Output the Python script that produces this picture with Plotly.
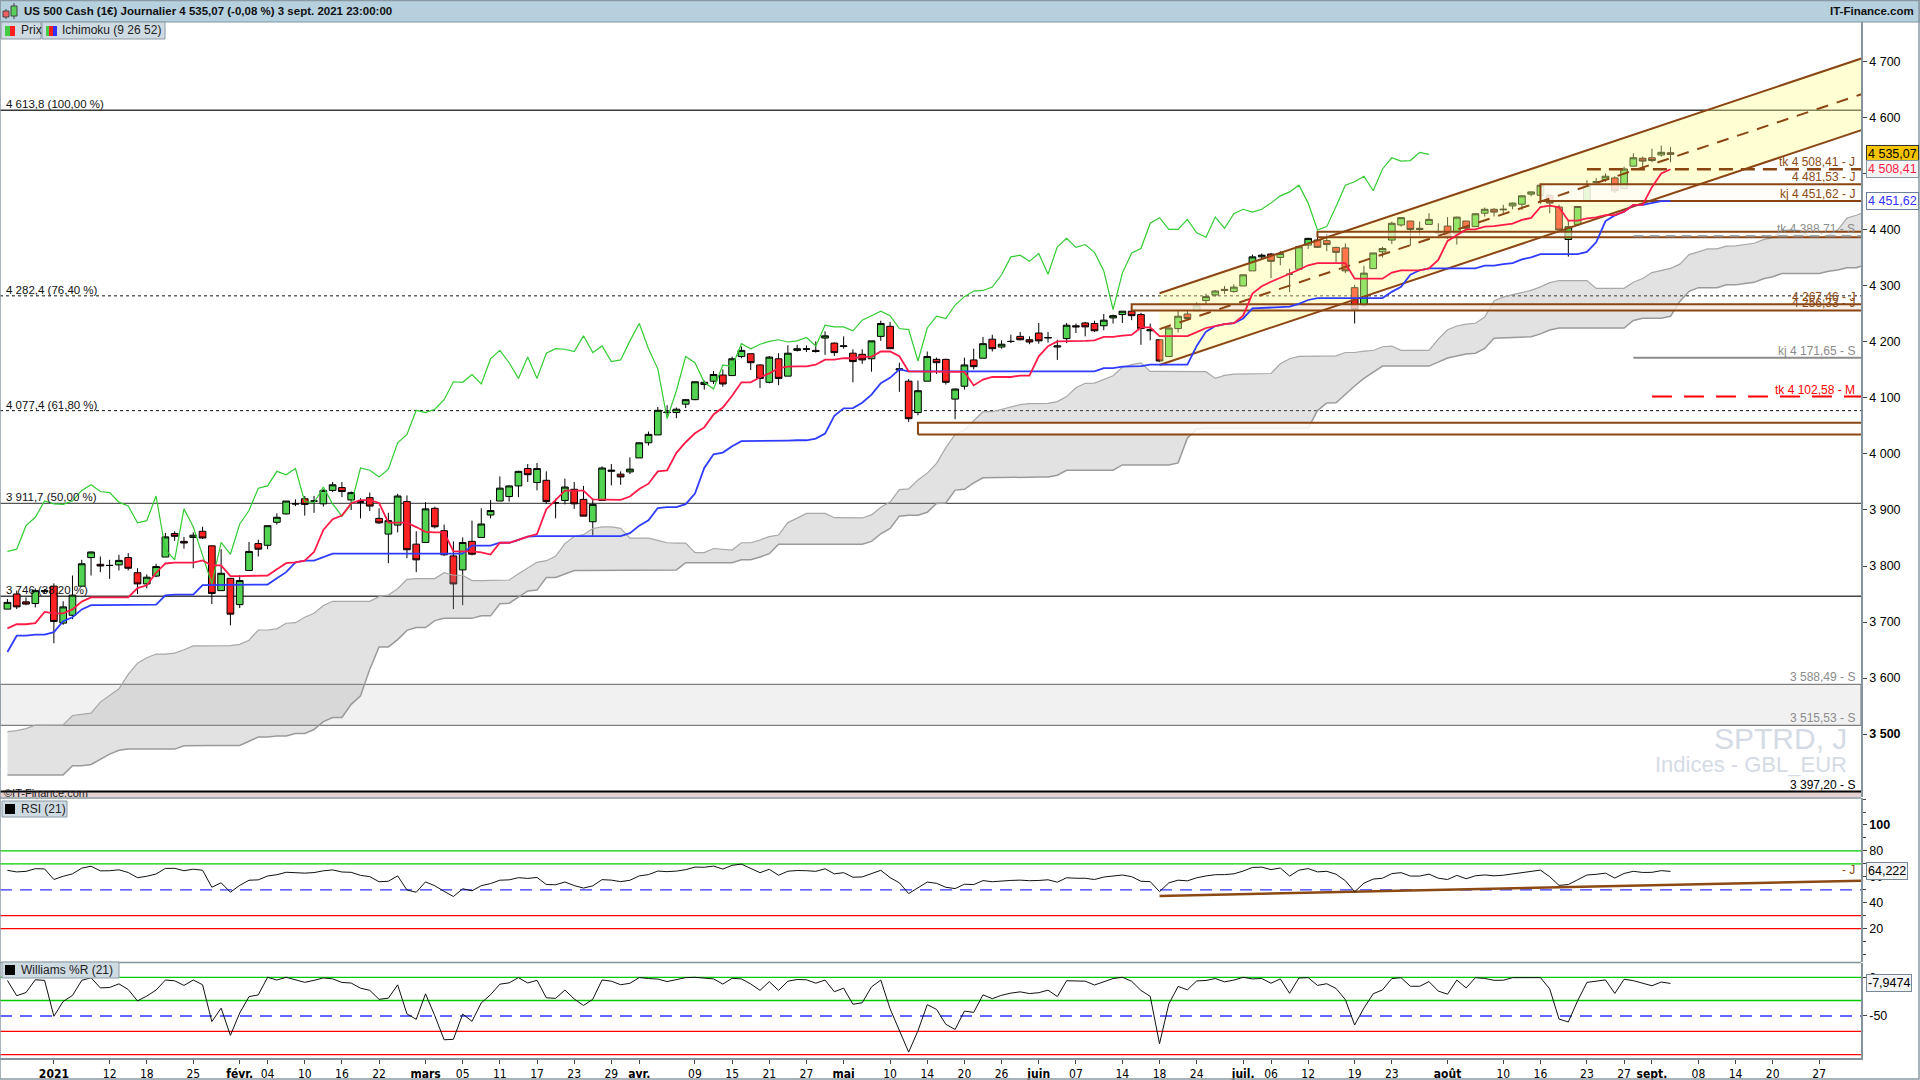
import pandas as pd
import plotly.graph_objects as go
from plotly.subplots import make_subplots

# warm-up bars (1 Sep - 25 Dec 2020), only used for the indicators
pre_high = [3529, 3588, 3564, 3479, 3430, 3379, 3424, 3426, 3369, 3402, 3419, 3428, 3376, 3363, 3286, 3320, 3323, 3279, 3306, 3361, 3357, 3393,
            3397, 3369, 3409, 3432, 3426, 3450, 3482, 3549, 3534, 3528, 3486, 3515, 3502, 3477, 3465, 3460, 3466, 3443, 3410, 3342, 3342, 3304,
            3331, 3389, 3486, 3529, 3521, 3645, 3557, 3579, 3569, 3593, 3628, 3624, 3619, 3585, 3582, 3589, 3642, 3635, 3640, 3644, 3637,
            3678, 3670, 3682, 3700, 3698, 3709, 3713, 3674, 3665, 3697, 3695, 3711, 3725, 3726, 3702, 3698, 3706, 3703, 3705]
pre_low = [3494, 3535, 3427, 3350, 3370, 3330, 3367, 3329, 3311, 3363, 3389, 3384, 3328, 3293, 3229, 3270, 3232, 3209, 3228, 3334, 3327, 3340,
           3361, 3324, 3367, 3354, 3384, 3425, 3456, 3489, 3500, 3480, 3441, 3482, 3419, 3435, 3433, 3416, 3440, 3363, 3388, 3268, 3259, 3233,
           3280, 3310, 3405, 3485, 3485, 3547, 3511, 3553, 3518, 3552, 3601, 3594, 3567, 3543, 3556, 3552, 3595, 3617, 3625, 3630, 3595,
           3645, 3645, 3661, 3670, 3684, 3679, 3660, 3645, 3634, 3645, 3659, 3688, 3710, 3685, 3636, 3676, 3687, 3689, 3698]
pre_close = [3526, 3580, 3455, 3427, 3390, 3332, 3399, 3339, 3341, 3383, 3401, 3385, 3357, 3319, 3281, 3315, 3237, 3246, 3298, 3351, 3335, 3363,
             3380, 3348, 3408, 3361, 3419, 3447, 3477, 3534, 3512, 3489, 3483, 3484, 3427, 3443, 3436, 3453, 3465, 3401, 3391, 3271, 3310, 3270,
             3310, 3369, 3443, 3510, 3509, 3550, 3545, 3572, 3537, 3585, 3626, 3610, 3568, 3582, 3558, 3577, 3636, 3629, 3635, 3638, 3622,
             3662, 3669, 3666, 3699, 3692, 3702, 3673, 3668, 3663, 3647, 3695, 3702, 3722, 3709, 3694, 3687, 3690, 3703, 3703]

# daily bars shown on the chart, 28 Dec 2020 - 3 Sep 2021
bar_open = [3723, 3750, 3736, 3733, 3756, 3764, 3698, 3712, 3764, 3815, 3803, 3801, 3802, 3815, 3788, 3768, 3782, 3816, 3858, 3844,
            3851, 3862, 3836, 3756, 3778, 3731, 3792, 3840, 3837, 3878, 3893, 3911, 3920, 3916, 3911, 3935, 3940, 3918, 3915, 3922,
            3885, 3857, 3873, 3915, 3839, 3842, 3903, 3863, 3818, 3793, 3844, 3851, 3891, 3916, 3924, 3943, 3974, 3949, 3953, 3913,
            3917, 3937, 3919, 3879, 3917, 3969, 3964, 3968, 3993, 4020, 4034, 4075, 4074, 4089, 4097, 4124, 4130, 4141, 4140, 4174,
            4179, 4159, 4128, 4170, 4139, 4185, 4188, 4185, 4207, 4198, 4192, 4180, 4178, 4170, 4210, 4228, 4150, 4130, 4074, 4130,
            4169, 4169, 4098, 4121, 4168, 4171, 4205, 4191, 4201, 4210, 4204, 4216, 4207, 4191, 4206, 4229, 4234, 4233, 4229, 4243,
            4249, 4255, 4249, 4220, 4204, 4174, 4224, 4250, 4256, 4274, 4284, 4294, 4290, 4300, 4327, 4352, 4357, 4351, 4321, 4330,
            4373, 4382, 4381, 4369, 4368, 4297, 4266, 4331, 4361, 4382, 4409, 4416, 4403, 4410, 4396, 4407, 4393, 4416, 4406, 4430,
            4437, 4436, 4443, 4446, 4464, 4462, 4462, 4441, 4383, 4410, 4451, 4485, 4490, 4493, 4474, 4514, 4528, 4529, 4534, 4538]
bar_high = [3741, 3756, 3744, 3760, 3758, 3769, 3737, 3783, 3811, 3826, 3817, 3811, 3820, 3823, 3796, 3785, 3804, 3859, 3862, 3852,
            3860, 3870, 3837, 3830, 3778, 3784, 3843, 3847, 3872, 3894, 3916, 3919, 3925, 3925, 3937, 3950, 3950, 3933, 3921, 3931,
            3903, 3895, 3929, 3926, 3862, 3914, 3906, 3874, 3844, 3851, 3881, 3903, 3918, 3960, 3944, 3970, 3982, 3984, 3969, 3920,
            3956, 3950, 3943, 3920, 3978, 3982, 3969, 3994, 4021, 4040, 4084, 4087, 4083, 4098, 4129, 4131, 4148, 4151, 4174, 4192,
            4180, 4160, 4175, 4180, 4194, 4195, 4194, 4201, 4219, 4199, 4210, 4187, 4187, 4202, 4238, 4236, 4163, 4134, 4131, 4183,
            4172, 4170, 4117, 4172, 4188, 4209, 4213, 4203, 4213, 4218, 4210, 4234, 4218, 4204, 4234, 4233, 4236, 4238, 4250, 4249,
            4255, 4257, 4252, 4233, 4204, 4226, 4256, 4256, 4271, 4286, 4293, 4300, 4303, 4320, 4356, 4358, 4359, 4362, 4331, 4372,
            4386, 4393, 4393, 4370, 4376, 4302, 4336, 4359, 4370, 4415, 4423, 4416, 4415, 4430, 4412, 4423, 4424, 4416, 4430, 4440,
            4439, 4445, 4449, 4462, 4469, 4481, 4463, 4445, 4418, 4442, 4489, 4493, 4501, 4496, 4513, 4537, 4531, 4545, 4550.8, 4548]
bar_low = [3723, 3723, 3730, 3726, 3752, 3662, 3695, 3705, 3764, 3783, 3789, 3777, 3792, 3792, 3750, 3760, 3780, 3816, 3845, 3831,
           3796, 3848, 3732, 3756, 3694, 3725, 3792, 3817, 3830, 3874, 3892, 3907, 3890, 3895, 3906, 3932, 3923, 3900, 3885, 3898,
           3875, 3805, 3860, 3814, 3789, 3842, 3867, 3818, 3723, 3730, 3819, 3851, 3885, 3916, 3915, 3923, 3950, 3935, 3911, 3885,
           3910, 3902, 3889, 3854, 3917, 3944, 3945, 3964, 3993, 4015, 4034, 4068, 4064, 4082, 4096, 4115, 4125, 4120, 4140, 4171,
           4150, 4118, 4126, 4123, 4139, 4183, 4182, 4181, 4177, 4175, 4188, 4128, 4161, 4147, 4202, 4188, 4111, 4057, 4069, 4130,
           4143, 4124, 4062, 4115, 4151, 4171, 4183, 4188, 4198, 4203, 4196, 4197, 4199, 4168, 4198, 4216, 4210, 4218, 4221, 4233,
           4234, 4239, 4195, 4203, 4164, 4174, 4217, 4241, 4256, 4267, 4281, 4286, 4288, 4300, 4327, 4347, 4314, 4337, 4289, 4330,
           4366, 4368, 4362, 4341, 4323, 4233, 4263, 4331, 4351, 4375, 4406, 4372, 4390, 4409, 4389, 4384, 4374, 4401, 4406, 4424,
           4424, 4430, 4437, 4436, 4460, 4447, 4430, 4400, 4352.4, 4408, 4451, 4482, 4486, 4466, 4474, 4513, 4507, 4521, 4531, 4521]
bar_close = [3735, 3727, 3732, 3756, 3755, 3701, 3727, 3748, 3804, 3825, 3800, 3801, 3810, 3796, 3768, 3780, 3799, 3852, 3853, 3841,
             3855, 3850, 3751, 3787, 3714, 3774, 3826, 3830, 3872, 3887, 3916, 3911, 3910, 3916, 3935, 3945, 3933, 3931, 3914, 3907,
             3877, 3881, 3925, 3829, 3811, 3902, 3870, 3820, 3768, 3842, 3821, 3875, 3899, 3939, 3943, 3969, 3963, 3974, 3915, 3913,
             3941, 3911, 3889, 3910, 3975, 3971, 3959, 3973, 4020, 4035, 4078, 4074, 4080, 4097, 4129, 4128, 4142, 4125, 4170, 4185,
             4163, 4135, 4173, 4135, 4180, 4188, 4187, 4183, 4211, 4181, 4193, 4165, 4168, 4202, 4233, 4188, 4152, 4063, 4113, 4174,
             4163, 4128, 4116, 4159, 4156, 4197, 4188, 4196, 4201, 4204, 4200, 4202, 4208, 4193, 4230, 4227, 4227, 4220, 4239, 4247,
             4255, 4247, 4224, 4222, 4166, 4225, 4246, 4242, 4266, 4281, 4291, 4292, 4298, 4320, 4352, 4355, 4344, 4358, 4321, 4370,
             4385, 4369, 4374, 4360, 4327, 4258, 4323, 4359, 4367, 4412, 4422, 4401, 4401, 4419, 4395, 4387, 4423, 4403, 4429, 4437,
             4432, 4437, 4448, 4461, 4468, 4480, 4448, 4400, 4406, 4442, 4480, 4486, 4496, 4470, 4509, 4529, 4523, 4524, 4538.7, 4535.07]

pre_dates = [d.strftime('%Y-%m-%d') for d in pd.bdate_range('2020-09-01', '2020-12-25')]
bar_dates = [d.strftime('%Y-%m-%d') for d in pd.bdate_range('2020-12-28', '2021-09-03')]
future_dates = [d.strftime('%Y-%m-%d') for d in pd.bdate_range('2021-09-06', '2021-10-11')]
axis_dates = bar_dates + future_dates
all_dates = pre_dates + axis_dates
assert len(pre_high) == len(pre_low) == len(pre_close) == len(pre_dates)
assert len(bar_open) == len(bar_high) == len(bar_low) == len(bar_close) == len(bar_dates)

# fibonacci retracement levels
fib_levels = [4613.8, 4282.4, 4077.4, 3911.7, 3746.0]
fib_labels = ['4 613,8 (100,00 %)', '4 282,4 (76,40 %)', '4 077,4 (61,80 %)', '3 911,7 (50,00 %)', '3 746 (38,20 %)']

# support zones (start date, bottom, top)
zone_start = ['2021-05-13', '2021-06-15', '2021-07-13', '2021-08-16']
zone_low = [4035.0, 4256.33, 4387.0, 4451.62]
zone_high = [4056.0, 4267.46, 4397.0, 4481.53]

# ichimoku levels of other timeframes
seg_start = ['2021-08-23', '2021-08-30', '2021-08-30', '2021-09-01']
seg_value = [4508.41, 4388.71, 4171.65, 4102.58]

band_levels = [3515.53, 3588.49]
floor_level = 3397.20

label_values = [4508.41, 4481.53, 4451.62, 4388.71, 4267.46, 4256.33, 4171.65, 4102.58, 3588.49, 3515.53, 3397.20]
label_texts = ['tk 4 508,41 - J', '4 481,53 - J', 'kj 4 451,62 - J', 'tk 4 388,71 - S', '4 267,46 - J', '4 256,33 - J',
               'kj 4 171,65 - S', 'tk 4 102,58 - M', '3 588,49 - S', '3 515,53 - S', '3 397,20 - S']
label_colors = ['#8b4a14', '#8b4a14', '#8b4a14', '#8c8c8c', '#8b4a14', '#8b4a14', '#8c8c8c', '#ff0000', '#8c8c8c', '#8c8c8c', '#000000']

# price channel drawn from the 18 June low
channel_dates = ['2021-06-18', '2021-10-11']
channel_lower = [4159.0, 4608.6]
channel_upper = [4287.0, 4736.6]

rsi_trend_dates = ['2021-06-18', '2021-10-11']
rsi_trend_values = [45.2, 57.8]

price_box_values = [4535.07, 4508.41, 4451.62]
price_box_texts = ['4 535,07', '4 508,41', '4 451,62']
rsi_last = 64.222
wpr_last = -7.9474

price_ticks = [3500, 3600, 3700, 3800, 3900, 4000, 4100, 4200, 4300, 4400, 4500, 4600, 4700]
price_tick_text = ['<b>3 500</b>', '3 600', '3 700', '3 800', '3 900', '4 000', '4 100', '4 200', '4 300', '4 400', '4 500', '4 600', '4 700']

tick_dates = ['2021-01-04', '2021-01-12', '2021-01-18', '2021-01-25', '2021-02-01', '2021-02-04', '2021-02-10', '2021-02-16',
              '2021-02-22', '2021-03-01', '2021-03-05', '2021-03-11', '2021-03-17', '2021-03-23', '2021-03-29', '2021-04-01',
              '2021-04-09', '2021-04-15', '2021-04-21', '2021-04-27', '2021-05-03', '2021-05-10', '2021-05-14', '2021-05-20',
              '2021-05-26', '2021-06-01', '2021-06-07', '2021-06-14', '2021-06-18', '2021-06-24', '2021-07-01', '2021-07-06',
              '2021-07-12', '2021-07-19', '2021-07-23', '2021-08-02', '2021-08-10', '2021-08-16', '2021-08-23', '2021-08-27',
              '2021-09-01', '2021-09-08', '2021-09-14', '2021-09-20', '2021-09-27']
tick_text = ['<b>2021</b>', '12', '18', '25', '<b>févr.</b>', '04', '10', '16', '22', '<b>mars</b>', '05', '11', '17', '23', '29',
             '<b>avr.</b>', '09', '15', '21', '27', '<b>mai</b>', '10', '14', '20', '26', '<b>juin</b>', '07', '14', '18', '24',
             '<b>juil.</b>', '06', '12', '19', '23', '<b>août</b>', '10', '16', '23', '27', '<b>sept.</b>', '08', '14', '20', '27']

# ---- indicators ----
high = pd.Series(pre_high + bar_high, dtype=float)
low = pd.Series(pre_low + bar_low, dtype=float)
close = pd.Series(pre_close + bar_close, dtype=float)
n_pre = len(pre_high)

tenkan = (high.rolling(9).max() + low.rolling(9).min()) / 2
kijun = (high.rolling(26).max() + low.rolling(26).min()) / 2
span_a = (tenkan + kijun) / 2
span_b = (high.rolling(52).max() + low.rolling(52).min()) / 2

delta = close.diff()
avg_up = delta.clip(lower=0).ewm(alpha=1 / 21, adjust=False).mean()
avg_down = (-delta.clip(upper=0)).ewm(alpha=1 / 21, adjust=False).mean()
rsi = 100 - 100 / (1 + avg_up / avg_down)
hh = high.rolling(21).max()
ll = low.rolling(21).min()
wpr = -100 * (hh - close) / (hh - ll)

cloud_pos = list(range(n_pre - 26, len(high)))
cloud_x = [all_dates[p + 26] for p in cloud_pos]

FONT = 'Liberation Sans, Arial, sans-serif'
NARROW = 'Liberation Sans Narrow, DejaVu Sans Condensed, Arial Narrow, sans-serif'
BROWN = '#8b4513'

# pixel helpers for the frame decorations (plot area 0..1861 x 22..1058)
def px(x):
    return x / 1861

def py(y):
    return (1058 - y) / 1036

fig = make_subplots(rows=3, cols=1, shared_xaxes=True, vertical_spacing=0.0)

# ichimoku cloud
fig.add_trace(go.Scatter(x=cloud_x, y=span_b.iloc[cloud_pos], mode='lines',
                         line=dict(color='#9a9a9a', width=1.5)), row=1, col=1)
fig.add_trace(go.Scatter(x=cloud_x, y=span_a.iloc[cloud_pos], mode='lines', fill='tonexty',
                         fillcolor='rgba(150,150,150,0.28)', line=dict(color='#a8a8a8', width=1.2)), row=1, col=1)

# channel
fig.add_trace(go.Scatter(x=channel_dates + channel_dates[::-1], y=channel_lower + channel_upper[::-1],
                         fill='toself', fillcolor='rgba(255,255,140,0.38)', mode='none'), row=1, col=1)

# zones
zone_fills = ['rgba(255,253,250,0.85)', 'rgba(245,236,226,0.8)', 'rgba(255,253,245,0.6)', 'rgba(255,253,248,0.8)']
for start, lo, hi, fc in zip(zone_start, zone_low, zone_high, zone_fills):
    end = axis_dates[-1]
    fig.add_trace(go.Scatter(x=[start, end, end, start, start], y=[lo, lo, hi, hi, lo], mode='lines',
                             fill='toself', fillcolor=fc, line=dict(color=BROWN, width=2)), row=1, col=1)

channel_mid = [(a + b) / 2 for a, b in zip(channel_lower, channel_upper)]
fig.add_trace(go.Scatter(x=channel_dates, y=channel_lower, mode='lines', line=dict(color=BROWN, width=2)), row=1, col=1)
fig.add_trace(go.Scatter(x=channel_dates, y=channel_upper, mode='lines', line=dict(color=BROWN, width=2)), row=1, col=1)
fig.add_trace(go.Scatter(x=channel_dates, y=channel_mid, mode='lines',
                         line=dict(color=BROWN, width=2, dash='12px,9px')), row=1, col=1)

seg_styles = [dict(color=BROWN, width=2.5, dash='14px,8px'), dict(color='#8c8c8c', width=2, dash='10px,6px'),
              dict(color='#8c8c8c', width=2), dict(color='#ff0000', width=2, dash='20px,12px')]
for start, val, st in zip(seg_start, seg_value, seg_styles):
    fig.add_trace(go.Scatter(x=[start, axis_dates[-1]], y=[val, val], mode='lines', line=st), row=1, col=1)

# chikou, kijun, tenkan
fig.add_trace(go.Scatter(x=bar_dates[:len(bar_dates) - 26], y=bar_close[26:], mode='lines',
                         line=dict(color='#33cc33', width=1.2)), row=1, col=1)
fig.add_trace(go.Scatter(x=bar_dates, y=kijun.iloc[n_pre:], mode='lines',
                         line=dict(color='#2f3cff', width=1.8)), row=1, col=1)
fig.add_trace(go.Scatter(x=bar_dates, y=tenkan.iloc[n_pre:], mode='lines',
                         line=dict(color='#ff1a48', width=1.8)), row=1, col=1)

fig.add_trace(go.Candlestick(x=bar_dates, open=bar_open, high=bar_high, low=bar_low, close=bar_close,
                             increasing=dict(line=dict(color='#000000', width=1), fillcolor='#52d452'),
                             decreasing=dict(line=dict(color='#000000', width=1), fillcolor='#ff2222'),
                             whiskerwidth=0), row=1, col=1)

# RSI panel
fig.add_trace(go.Scatter(x=rsi_trend_dates, y=rsi_trend_values, mode='lines',
                         line=dict(color='#8b4a14', width=2.5)), row=2, col=1)
fig.add_trace(go.Scatter(x=bar_dates, y=rsi.iloc[n_pre:], mode='lines',
                         line=dict(color='#111111', width=1)), row=2, col=1)

# Williams %R panel
fig.add_trace(go.Scatter(x=bar_dates, y=wpr.iloc[n_pre:], mode='lines',
                         line=dict(color='#111111', width=1)), row=3, col=1)

shapes = []
# fill band between weekly supports
shapes.append(dict(type='rect', xref='paper', yref='y', x0=0, x1=1, y0=band_levels[0], y1=band_levels[1],
                   fillcolor='#f1f1f1', line=dict(color='#808080', width=1.2), layer='below'))
fib_styles = [dict(color='#3a3a3a', width=1.3), dict(color='#111111', width=1, dash='3px,3px'),
              dict(color='#111111', width=1, dash='3px,3px'), dict(color='#555555', width=1.3),
              dict(color='#444444', width=1.3)]
for lvl, st in zip(fib_levels, fib_styles):
    shapes.append(dict(type='line', xref='paper', yref='y', x0=0, x1=1, y0=lvl, y1=lvl, line=st, layer='below'))
shapes.append(dict(type='rect', xref='paper', yref='y', x0=0, x1=1, y0=3380, y1=floor_level,
                   fillcolor='#e4d2d2', line=dict(width=0), layer='below'))
shapes.append(dict(type='line', xref='paper', yref='y', x0=0, x1=1, y0=floor_level, y1=floor_level,
                   line=dict(color='#000000', width=2), layer='below'))

# oscillator guide lines
for v, c, d in [(80, '#00cc00', 'solid'), (70, '#00cc00', 'solid'), (50, '#3333ff', '12px,8px'),
                (30, '#ff0000', 'solid'), (20, '#ff0000', 'solid')]:
    shapes.append(dict(type='line', xref='paper', yref='y2', x0=0, x1=1, y0=v, y1=v,
                       line=dict(color=c, width=1.3, dash=d), layer='below'))
for v, c, d in [(0, '#00cc00', 'solid'), (-30, '#00cc00', 'solid'), (-50, '#3333ff', '12px,8px'),
                (-70, '#ff0000', 'solid'), (-100, '#ff0000', 'solid')]:
    shapes.append(dict(type='line', xref='paper', yref='y3', x0=0, x1=1, y0=v, y1=v,
                       line=dict(color=c, width=1.3, dash=d), layer='below'))

# panel separators
for yy in [798, 962.5]:
    shapes.append(dict(type='line', xref='paper', yref='paper', x0=0, x1=1, y0=py(yy), y1=py(yy),
                       line=dict(color='#85939d', width=1.5)))

# title bar and boxes
shapes.append(dict(type='rect', xref='paper', yref='paper', x0=0, x1=px(1920), y0=py(22), y1=py(0),
                   fillcolor='#b6d0de', line=dict(color='#7d95a3', width=1)))
shapes.append(dict(type='line', xref='paper', yref='paper', x0=px(6), x1=px(6), y0=py(19), y1=py(9), line=dict(color='#444', width=1)))
shapes.append(dict(type='rect', xref='paper', yref='paper', x0=px(3), x1=px(9), y0=py(17), y1=py(11),
                   fillcolor='#f06060', line=dict(color='#444', width=1)))
shapes.append(dict(type='line', xref='paper', yref='paper', x0=px(14), x1=px(14), y0=py(19), y1=py(3), line=dict(color='#444', width=1)))
shapes.append(dict(type='rect', xref='paper', yref='paper', x0=px(11), x1=px(17), y0=py(16), y1=py(6),
                   fillcolor='#5ad05a', line=dict(color='#444', width=1)))
for x0, x1, y0, y1 in [(1, 41, 22, 39), (42, 165, 22, 39), (2, 67, 801, 817), (2, 119, 962, 978)]:
    shapes.append(dict(type='rect', xref='paper', yref='paper', x0=px(x0), x1=px(x1), y0=py(y1), y1=py(y0),
                       fillcolor='#cfdbe3', line=dict(color='#8a99a3', width=1)))
for x0, x1, col, y0, y1 in [(5, 10, '#44cc44', 26, 36), (10, 15, '#ff2020', 26, 36),
                            (46, 49, '#44cc44', 26, 36), (49, 53, '#ff2020', 26, 36), (53, 57, '#3333ff', 26, 36),
                            (5, 15, '#000000', 804, 814), (5, 15, '#000000', 965, 975)]:
    shapes.append(dict(type='rect', xref='paper', yref='paper', x0=px(x0), x1=px(x1), y0=py(y1), y1=py(y0),
                       fillcolor=col, line=dict(width=0)))
shapes.append(dict(type='rect', xref='paper', yref='paper', x0=0, x1=px(1919), y0=py(1079), y1=py(0.5),
                   line=dict(color='#8a99a3', width=1.5)))

annotations = []
annotations.append(dict(xref='paper', yref='paper', x=px(22), y=py(11), xanchor='left', yanchor='middle', showarrow=False,
                        text='<b>US 500 Cash (1€) Journalier 4 535,07 (-0,08 %) 3 sept. 2021 23:00:00</b>',
                        font=dict(family=FONT, size=11.5, color='#111')))
annotations.append(dict(xref='paper', yref='paper', x=px(1916), y=py(11), xanchor='right', yanchor='middle', showarrow=False,
                        text='<b>IT-Finance.com</b>', font=dict(family=FONT, size=11.5, color='#111')))
for txt, x, y in [('Prix', 19, 30.5), ('Ichimoku (9 26 52)', 60, 30.5), ('RSI (21)', 19, 809), ('Williams %R (21)', 19, 970)]:
    annotations.append(dict(xref='paper', yref='paper', x=px(x), y=py(y), xanchor='left', yanchor='middle', showarrow=False,
                            text=txt, font=dict(family=FONT, size=12, color='#222')))
for lvl, txt in zip(fib_levels, fib_labels):
    annotations.append(dict(xref='paper', yref='y', x=px(4), y=lvl, xanchor='left', yanchor='bottom', showarrow=False,
                            text=txt, font=dict(family=FONT, size=11.5, color='#111'), yshift=-2))
for val, txt, col in zip(label_values, label_texts, label_colors):
    annotations.append(dict(xref='paper', yref='y', x=px(1857), y=val, xanchor='right', yanchor='bottom', showarrow=False,
                            text=txt, font=dict(family=FONT, size=12, color=col), yshift=-2))
annotations.append(dict(xref='paper', yref='y2', x=px(1857), y=rsi_trend_values[-1], xanchor='right', yanchor='bottom',
                        showarrow=False, text='- J', font=dict(family=FONT, size=12, color='#8b4a14'), yshift=1))
annotations.append(dict(xref='paper', yref='paper', x=px(2), y=py(793), xanchor='left', yanchor='middle', showarrow=False,
                        text='©IT-Finance.com', font=dict(family=FONT, size=11, color='#222')))
annotations.append(dict(xref='paper', yref='paper', x=px(1849), y=py(738), xanchor='right', yanchor='middle', showarrow=False,
                        text='SPTRD, J', font=dict(family=FONT, size=30, color='#d5dbe5')))
annotations.append(dict(xref='paper', yref='paper', x=px(1849), y=py(764), xanchor='right', yanchor='middle', showarrow=False,
                        text='Indices - GBL_EUR', font=dict(family=FONT, size=22, color='#d5dbe5')))

box_styles = [('#000000', '#f5c400', '#333333'), ('#ff1a48', '#f4f4f4', '#8899a6'), ('#3333ff', '#ffffff', '#6a7fa0')]
for val, txt, (fc, bg, bc) in zip(price_box_values, price_box_texts, box_styles):
    annotations.append(dict(xref='paper', yref='y', x=px(1866), y=val, xanchor='left', yanchor='middle', showarrow=False,
                            text=txt, font=dict(family=FONT, size=12.5, color=fc), bgcolor=bg, bordercolor=bc,
                            borderwidth=1, borderpad=1))
annotations.append(dict(xref='paper', yref='y2', x=px(1866), y=rsi_last, xanchor='left', yanchor='middle', showarrow=False,
                        text='64,222', font=dict(family=FONT, size=12.5, color='#000'), bgcolor='#f4f4f4',
                        bordercolor='#778899', borderwidth=1, borderpad=1))
annotations.append(dict(xref='paper', yref='y3', x=px(1866), y=wpr_last, xanchor='left', yanchor='middle', showarrow=False,
                        text='-7,9474', font=dict(family=FONT, size=12.5, color='#000'), bgcolor='#f4f4f4',
                        bordercolor='#778899', borderwidth=1, borderpad=1))

fig.update_layout(width=1920, height=1080, margin=dict(l=0, r=59, t=22, b=22),
                  paper_bgcolor='white', plot_bgcolor='white', showlegend=False, hovermode=False,
                  font=dict(family=FONT, size=12, color='#000'), shapes=shapes, annotations=annotations,
                  boxgap=0.1, boxgroupgap=0.2)

for ax in ['xaxis', 'xaxis2', 'xaxis3']:
    fig.layout[ax].update(type='category', categoryorder='array', categoryarray=axis_dates, range=[-0.8, 199.5],
                          showgrid=False, zeroline=False, rangeslider=dict(visible=False))
fig.layout.xaxis.update(showticklabels=False, ticks='')
fig.layout.xaxis2.update(showticklabels=False, ticks='')
fig.layout.xaxis3.update(tickmode='array', tickvals=tick_dates, ticktext=tick_text, ticks='outside', ticklen=4,
                         tickcolor='#444', showline=True, linecolor='#85939d', linewidth=1.5, tickangle=0,
                         tickfont=dict(family=NARROW, size=12, color='#000'))

yax = dict(side='right', showgrid=False, zeroline=False, showline=True, linecolor='#85939d', linewidth=1.5,
           ticks='outside', ticklen=4, tickcolor='#444', tickfont=dict(family=FONT, size=12.5, color='#000'))
fig.layout.yaxis.update(domain=[py(797), 1.0], range=[3387.5, 4771.4], tickmode='array',
                        tickvals=price_ticks, ticktext=price_tick_text, **yax)
fig.layout.yaxis2.update(domain=[py(962), py(798)], range=[-5.7, 120.8], tickmode='array',
                         tickvals=[20, 40, 60, 80, 100], ticktext=['20', '40', '60', '80', '<b>100</b>'],
                         minor=dict(dtick=10, ticks='outside', ticklen=3, tickcolor='#444'), **yax)
fig.layout.yaxis3.update(domain=[0, py(963)], range=[-104.3, 18.5], tickmode='array',
                         tickvals=[0, -50], ticktext=['0', '-50'], **yax)

fig.write_html("out.html", config={'displayModeBar': False},
               post_script="document.body.style.margin='0px';document.body.style.overflow='hidden';")
